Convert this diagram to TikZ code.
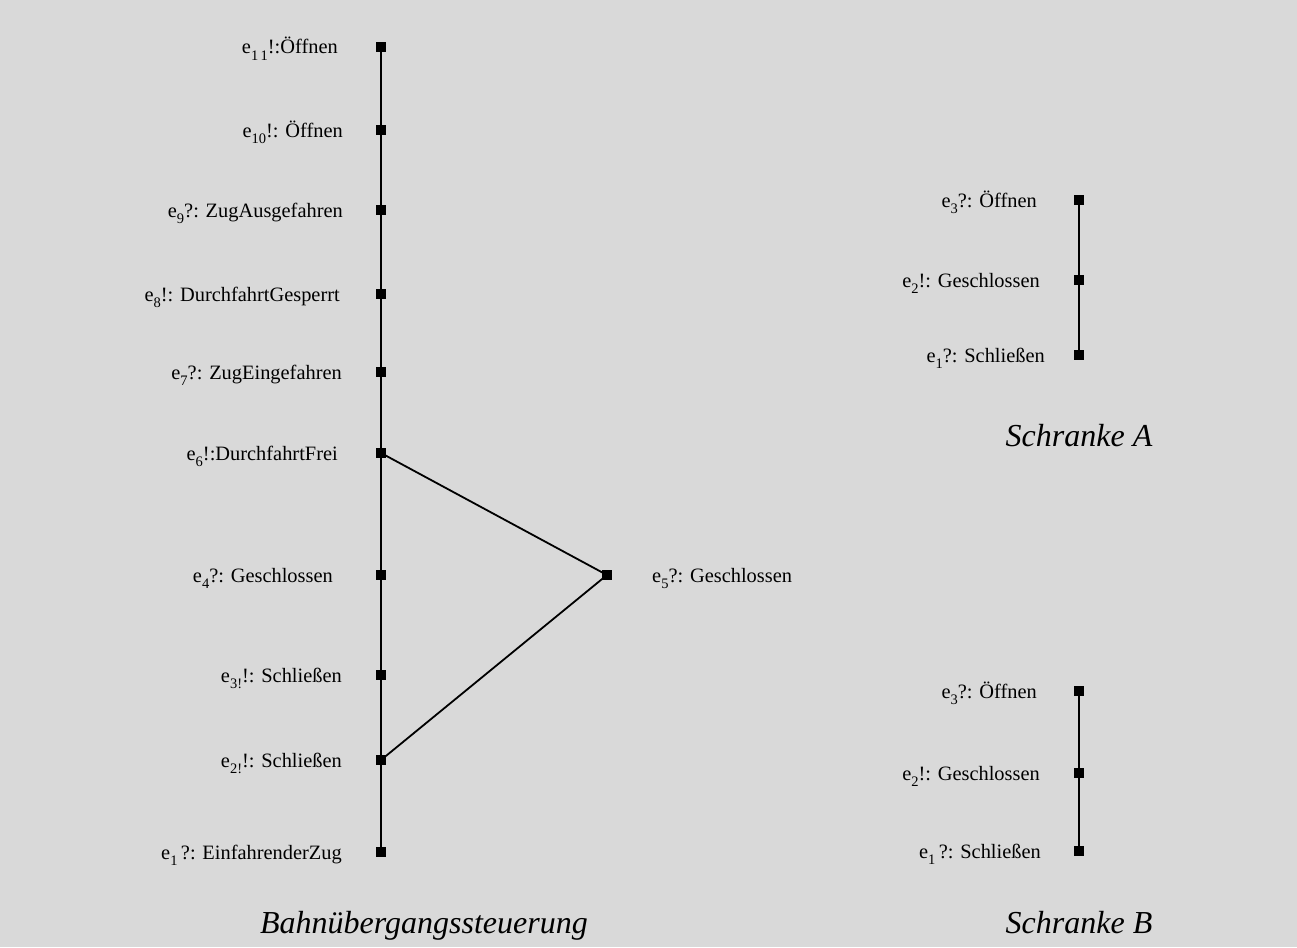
\documentclass[tikz,border=0pt]{standalone}
\usepackage{fontspec}
\setmainfont{Liberation Serif}
\newcommand{\ix}[1]{\raisebox{-0.32em}{\fontsize{14.5}{14.5}\selectfont #1}}
\begin{document}
\begin{tikzpicture}[x=1pt,y=-1pt,
  ev/.style={fill=black,draw=none,minimum size=10pt,inner sep=0pt,rectangle},
  lab/.style={anchor=base east,font=\fontsize{20.4}{22}\selectfont,inner sep=0pt},
  labr/.style={anchor=base west,font=\fontsize{20.4}{22}\selectfont,inner sep=0pt},
  ttl/.style={anchor=base,font=\fontsize{32}{36}\selectfont\itshape,inner sep=0pt},
  edge/.style={line width=1.8pt}]
\fill[fill={rgb,255:red,217;green,217;blue,217}] (0,0) rectangle (1297,947);
\useasboundingbox (0,0) rectangle (1297,947);

% Bahnuebergangssteuerung
\foreach \n/\y in {1/852,2/760,3/675,4/575,6/453,7/372,8/294,9/210,10/130,11/47}
  \node[ev] (m\n) at (381,\y) {};
\node[ev] (m5) at (607,575) {};
\draw[edge] (m1.center) -- (m2.center) -- (m3.center) -- (m4.center) -- (m6.center)
  -- (m7.center) -- (m8.center) -- (m9.center) -- (m10.center) -- (m11.center);
\draw[edge] (m2.center) -- (m5.center) -- (m6.center);

\node[lab] (l11) at (338,54) {e\ix{1\,1}!:Öffnen};
\node[lab] (l10) at (343,137) {e\ix{10}!: Öffnen};
\node[lab] (l9) at (343,217) {e\ix{9}?: ZugAusgefahren};
\node[lab] (l8) at (340,301) {e\ix{8}!: DurchfahrtGesperrt};
\node[lab] (l7) at (342,379) {e\ix{7}?: ZugEingefahren};
\node[lab] (l6) at (338,460) {e\ix{6}!:DurchfahrtFrei};
\node[lab] (l4) at (333,582) {e\ix{4}?: Geschlossen};
\node[lab] (l3) at (342,682) {e\ix{3!}!: Schließen};
\node[lab] (l2) at (342,767) {e\ix{2!}!: Schließen};
\node[lab] (l1) at (342,859) {e\ix{1}\,?: EinfahrenderZug};
\node[labr] (l5) at (652,582) {e\ix{5}?: Geschlossen};
\node[ttl] (tb) at (424,933) {Bahnübergangssteuerung};

% Schranke A
\foreach \n/\y in {1/355,2/280,3/200}
  \node[ev] (a\n) at (1079,\y) {};
\draw[edge] (a1.center) -- (a2.center) -- (a3.center);
\node[lab] (la3) at (1037,207) {e\ix{3}?: Öffnen};
\node[lab] (la2) at (1040,287) {e\ix{2}!: Geschlossen};
\node[lab] (la1) at (1045,362) {e\ix{1}?: Schließen};
\node[ttl] (ta) at (1079,446) {Schranke A};

% Schranke B
\foreach \n/\y in {1/851,2/773,3/691}
  \node[ev] (b\n) at (1079,\y) {};
\draw[edge] (b1.center) -- (b2.center) -- (b3.center);
\node[lab] (lb3) at (1037,698) {e\ix{3}?: Öffnen};
\node[lab] (lb2) at (1040,780) {e\ix{2}!: Geschlossen};
\node[lab] (lb1) at (1041,858) {e\ix{1}\,?: Schließen};
\node[ttl] (tbb) at (1079,933) {Schranke B};
\end{tikzpicture}
\end{document}
